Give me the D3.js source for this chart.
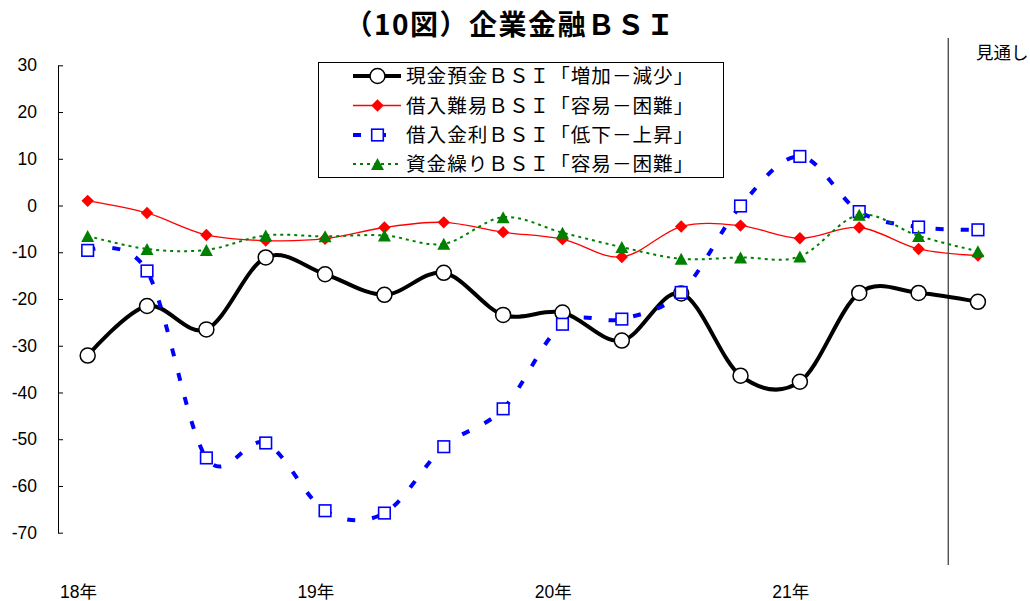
<!DOCTYPE html>
<html>
<head>
<meta charset="utf-8">
<script src="https://cdn.jsdelivr.net/npm/d3@7"></script>
<style>
  html, body { margin: 0; padding: 0; background: #fff; }
  svg { display: block; }
  .cjk { font-family: "Noto Sans CJK JP", "Noto Sans", sans-serif; }
  .num { font-family: "Liberation Sans", Arial, "Noto Sans CJK JP", sans-serif; }
</style>
</head>
<body>
<svg id="chart" width="1030" height="601"></svg>
<script>
// Quarters from 2018 Q1 to 2021 Q4 (last quarter is the outlook)
const quarters = ["18Q1","18Q2","18Q3","18Q4","19Q1","19Q2","19Q3","19Q4",
                  "20Q1","20Q2","20Q3","20Q4","21Q1","21Q2","21Q3","21Q4"];
const yearLabels = ["18年","","","","19年","","","","20年","","","","21年","","",""];
const yTicks = [30, 20, 10, 0, -10, -20, -30, -40, -50, -60, -70];

// 現金預金ＢＳＩ「増加－減少」
const cashDeposits = [-32.1,-21.5,-26.5,-11.1,-14.7,-19.1,-14.4,-23.4,-22.9,-28.9,-18.8,-36.4,-37.7,-18.7,-18.7,-20.6];
// 借入難易ＢＳＩ「容易－困難」
const borrowingEase = [1.0,-1.6,-6.3,-7.5,-7.1,-4.7,-3.6,-5.7,-7.2,-11.0,-4.5,-4.3,-7.0,-4.7,-9.3,-10.7];
// 借入金利ＢＳＩ「低下－上昇」
const borrowingRate = [-9.6,-14.0,-54.0,-50.8,-65.3,-65.8,-51.6,-43.5,-25.4,-24.3,-18.6,-0.1,10.5,-1.3,-4.6,-5.2];
// 資金繰りＢＳＩ「容易－困難」
const fundingEase = [-6.5,-9.3,-9.5,-6.4,-6.6,-6.4,-8.2,-2.5,-5.8,-8.9,-11.4,-11.1,-10.9,-2.0,-6.5,-9.8];

const seriesNames = [
  "現金預金ＢＳＩ「増加－減少」",
  "借入難易ＢＳＩ「容易－困難」",
  "借入金利ＢＳＩ「低下－上昇」",
  "資金繰りＢＳＩ「容易－困難」"
];
const seriesValues = [cashDeposits, borrowingEase, borrowingRate, fundingEase];
const outlookLabel = "見通し";
const titleText = "（10図）企業金融ＢＳＩ";

const styles = [
  { stroke: "#000", width: 4, dash: null, marker: "circle" },
  { stroke: "#ff0000", width: 1.3, dash: null, marker: "diamond" },
  { stroke: "#0000ff", width: 4, dash: "8,17", marker: "square" },
  { stroke: "#008000", width: 2, dash: "3,4", marker: "triangle" }
];

const svg = d3.select("#chart");

const plotLeft = 58, plotRight = 1007.6;
const x = d3.scaleBand().domain(quarters).range([plotLeft, plotRight]).padding(0);
const cx = q => x(q) + x.bandwidth() / 2;
const y = d3.scaleLinear().domain([-70, 30]).range([532.7, 65.3]);

// Title
svg.append("text")
  .attr("class", "cjk")
  .attr("x", 510).attr("y", 35)
  .attr("text-anchor", "middle")
  .attr("font-size", 28).attr("font-weight", "bold")
  .attr("letter-spacing", 1.5)
  .text(titleText);

// Y axis with inward ticks
const yAxis = d3.axisLeft(y)
  .tickValues(yTicks)
  .tickSizeInner(-5).tickSizeOuter(0)
  .tickPadding(21)
  .tickFormat(d => String(d));
const gy = svg.append("g").attr("transform", `translate(${plotLeft},0)`).call(yAxis);
gy.select(".domain").attr("stroke", "#000").attr("stroke-width", 1);
gy.selectAll(".tick line").attr("stroke", "#000");
gy.selectAll(".tick text")
  .attr("class", "num")
  .attr("font-size", 17.5)
  .attr("fill", "#000");

// Year labels along the bottom
svg.append("g").selectAll("text")
  .data(quarters.map((q, i) => ({ q, label: yearLabels[i] })).filter(d => d.label))
  .join("text")
  .attr("class", "num")
  .attr("x", d => x(d.q) + 2)
  .attr("y", 598)
  .attr("font-size", 17.5)
  .text(d => d.label);

// Divider before the outlook quarter
const lastQ = quarters[quarters.length - 1];
svg.append("line")
  .attr("x1", x(lastQ)).attr("x2", x(lastQ))
  .attr("y1", 38).attr("y2", 565)
  .attr("stroke", "#333").attr("stroke-width", 1.2);
svg.append("text")
  .attr("class", "cjk")
  .attr("x", 976).attr("y", 59)
  .attr("font-size", 17.5)
  .text(outlookLabel);

// Marker drawing
function drawMarker(g, type, px, py) {
  if (type === "circle") {
    g.append("circle").attr("cx", px).attr("cy", py).attr("r", 7.5)
      .attr("fill", "#fff").attr("stroke", "#000").attr("stroke-width", 1.5);
  } else if (type === "diamond") {
    const s = 6.2;
    g.append("path")
      .attr("d", `M${px},${py - s}L${px + s},${py}L${px},${py + s}L${px - s},${py}Z`)
      .attr("fill", "#ff0000");
  } else if (type === "square") {
    const s = 5.8;
    g.append("rect").attr("x", px - s).attr("y", py - s)
      .attr("width", 2 * s).attr("height", 2 * s)
      .attr("fill", "#fff").attr("stroke", "#0000ff").attr("stroke-width", 1.6);
  } else if (type === "triangle") {
    const w = 6.5, h = 6;
    g.append("path")
      .attr("d", `M${px},${py - h}L${px + w},${py + h}L${px - w},${py + h}Z`)
      .attr("fill", "#008000");
  }
}

const line = d3.line()
  .x((d, i) => cx(quarters[i]))
  .y(d => y(d))
  .curve(d3.curveCardinal.tension(0));

seriesValues.forEach((vals, si) => {
  const st = styles[si];
  const g = svg.append("g");
  g.append("path")
    .datum(vals)
    .attr("d", line)
    .attr("fill", "none")
    .attr("stroke", st.stroke)
    .attr("stroke-width", st.width)
    .attr("stroke-dasharray", st.dash)
    .attr("stroke-linejoin", "round");
  vals.forEach((v, i) => drawMarker(g, st.marker, cx(quarters[i]), y(v)));
});

// Legend
const legend = svg.append("g");
legend.append("rect")
  .attr("x", 318.5).attr("y", 62.5).attr("width", 405).attr("height", 115)
  .attr("fill", "#fff").attr("stroke", "#000").attr("stroke-width", 1);
const rowY = [76, 105.5, 135, 164];
seriesNames.forEach((name, si) => {
  const st = styles[si];
  const ry = rowY[si];
  legend.append("line")
    .attr("x1", 353).attr("x2", 401).attr("y1", ry).attr("y2", ry)
    .attr("stroke", st.stroke).attr("stroke-width", st.width)
    .attr("stroke-dasharray", st.dash);
  drawMarker(legend, st.marker, 377.5, ry);
  legend.append("text")
    .attr("class", "cjk")
    .attr("x", 406).attr("y", ry + 7)
    .attr("font-size", 19.6)
    .attr("letter-spacing", 1)
    .text(name);
});
</script>
</body>
</html>
